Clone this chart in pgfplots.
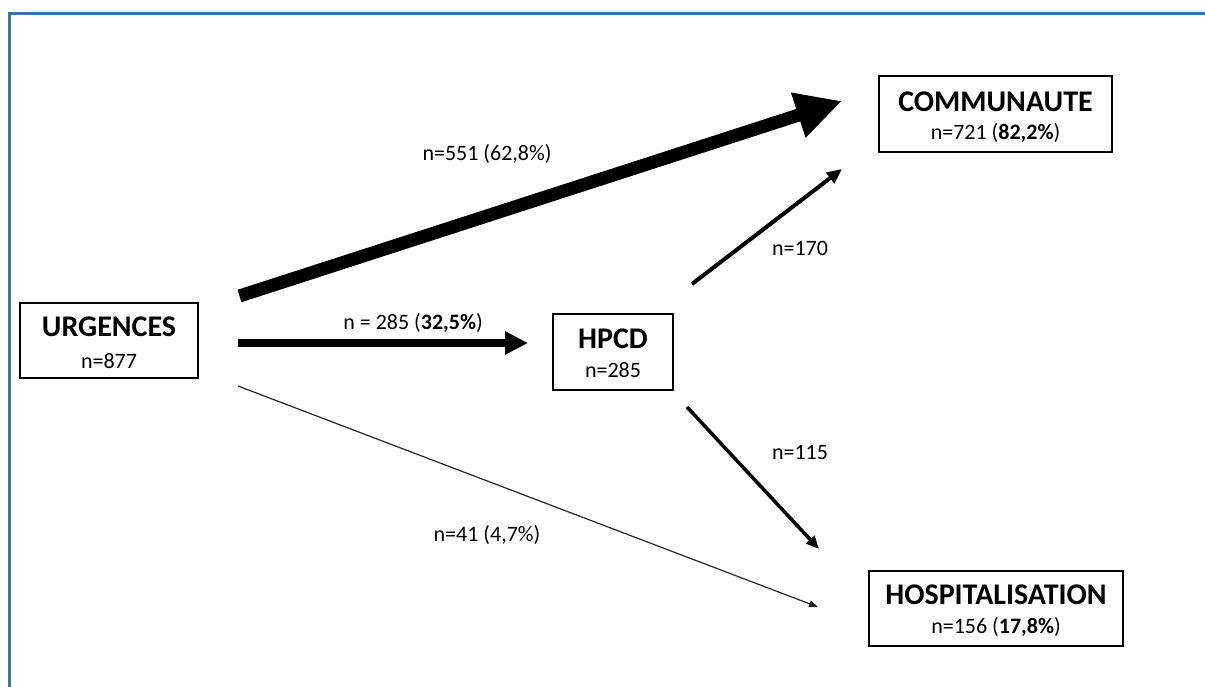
\documentclass[border=0pt]{standalone}
\usepackage{pgfplots}
\pgfplotsset{compat=1.18}
\usepackage{fontspec}
\setmainfont{Carlito}
\usetikzlibrary{arrows.meta}
\definecolor{frameblue}{RGB}{65,113,158}
\begin{document}
\begin{tikzpicture}
\begin{axis}[
  width=1205pt, height=686pt, scale only axis,
  xmin=0, xmax=1205, ymin=0, ymax=686, y dir=reverse,
  hide axis, clip=true, no markers
]
% invisible canvas
\addplot[draw=none] coordinates {(0,0) (1205,686)};
% frame
\addplot[frameblue, line width=3.5pt, line join=miter] coordinates {(9.5,690) (9.5,13.5) (1210,13.5)};
% boxes
\addplot[black, line width=2.5pt, line cap=rect, line join=miter] coordinates {(20,303) (198,303) (198,378) (20,378) (20,303)};
\addplot[black, line width=2.5pt, line cap=rect, line join=miter] coordinates {(553,314) (673,314) (673,390) (553,390) (553,314)};
\addplot[black, line width=2.5pt, line cap=rect, line join=miter] coordinates {(879,76) (1112,76) (1112,152) (879,152) (879,76)};
\addplot[black, line width=2.5pt, line cap=rect, line join=miter] coordinates {(869,571) (1123,571) (1123,646) (869,646) (869,571)};
% arrows
\addplot[black, line width=13pt, -{Triangle[length=46pt,width=44pt]}] coordinates {(239.5,296) (842,101)};
\addplot[black, line width=7.5pt, -{Triangle[length=23pt,width=22pt]}] coordinates {(238,343) (528,343)};
\addplot[black!85, line width=1.2pt, -{Triangle[length=9pt,width=7pt]}] coordinates {(238,386) (818,607)};
\addplot[black, line width=4pt, -{Triangle[length=15pt,width=13pt]}] coordinates {(692,284) (842,169)};
\addplot[black, line width=3.5pt, -{Triangle[length=13pt,width=11pt]}] coordinates {(687,407) (819,549)};
% box texts
\node[anchor=base, inner sep=0, font=\fontsize{30}{36}\bfseries\selectfont] at (109,336) {URGENCES};
\node[anchor=base, inner sep=0, font=\fontsize{22}{26}\selectfont] at (109,368) {n=877};
\node[anchor=base, inner sep=0, font=\fontsize{30}{36}\bfseries\selectfont] at (613,348) {HPCD};
\node[anchor=base, inner sep=0, font=\fontsize{22}{26}\selectfont] at (613,377.5) {n=285};
\node[anchor=base, inner sep=0, font=\fontsize{30}{36}\bfseries\selectfont] at (995.5,111) {COMMUNAUTE};
\node[anchor=base, inner sep=0, font=\fontsize{22}{26}\selectfont] at (995.5,139.5) {n=721 (\textbf{82,2\%})};
\node[anchor=base, inner sep=0, font=\fontsize{30}{36}\bfseries\selectfont] at (996,604) {HOSPITALISATION};
\node[anchor=base, inner sep=0, font=\fontsize{22}{26}\selectfont] at (996,633.5) {n=156 (\textbf{17,8\%})};
% arrow labels
\node[anchor=base, inner sep=0, font=\fontsize{22}{26}\selectfont] at (487,160.5) {n=551 (62,8\%)};
\node[anchor=base, inner sep=0, font=\fontsize{22}{26}\selectfont] at (413,329) {n = 285 (\textbf{32,5\%})};
\node[anchor=base, inner sep=0, font=\fontsize{22}{26}\selectfont] at (487,541.5) {n=41 (4,7\%)};
\node[anchor=base, inner sep=0, font=\fontsize{22}{26}\selectfont] at (800,255) {n=170};
\node[anchor=base, inner sep=0, font=\fontsize{22}{26}\selectfont] at (800,459) {n=115};
\end{axis}
\end{tikzpicture}
\end{document}
